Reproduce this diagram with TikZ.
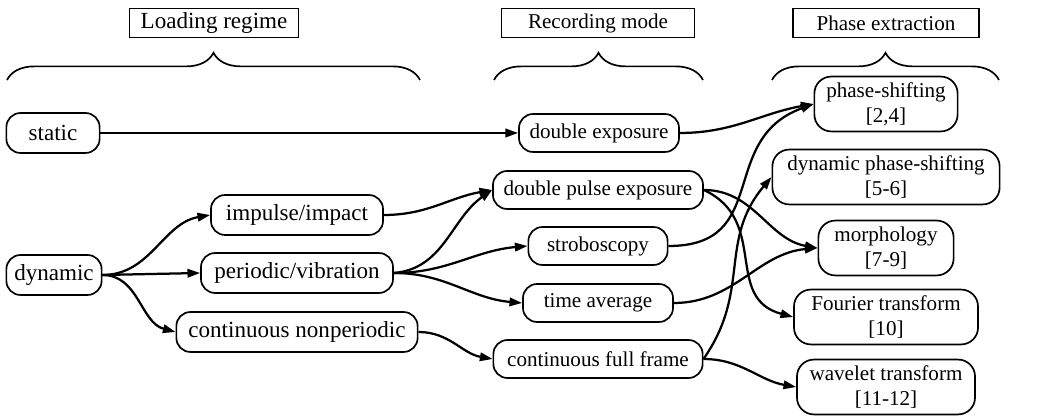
\documentclass[tikz,border=0pt]{standalone}
\usepackage{fontspec}
\setmainfont{Liberation Serif}
\usetikzlibrary{arrows.meta,decorations.pathreplacing}

\tikzset{
  stage/.style={draw,line width=1.2pt,rounded corners=10pt,
    inner xsep=3pt,inner ysep=3pt,align=center},
  loadcol/.style={stage,font=\fontsize{16.4}{19}\selectfont,minimum height=28.4pt},
  reccol/.style={stage,minimum height=27pt},
  phcol/.style={stage,minimum height=39pt,rounded corners=12pt},
  head/.style={draw,line width=1pt,minimum height=21pt,inner ysep=2pt},
  link/.style={line width=1.6pt,-{Triangle[length=9pt,width=6pt]}},
  brc/.style={line width=1.2pt,decorate,decoration={brace,amplitude=0.68cm}}
}

\begin{document}
\begin{tikzpicture}[x=0.025cm,y=0.025cm,font=\fontsize{15}{18}\selectfont]
  \useasboundingbox (0,0) rectangle (1057,418);
  % column heads
  \node[head,minimum width=4.23cm,font=\fontsize{16.4}{19}\selectfont] (hload) at (214,395) {Loading regime};
  \node[head,minimum width=4.83cm] (hrec) at (598,395) {Recording mode};
  \node[head,minimum width=4.65cm] (hphase) at (886,395) {Phase extraction};
  \draw[brc] (7,338) -- (420,338);
  \draw[brc] (494,338) -- (703,338);
  \draw[brc] (772,338) -- (999,338);
  % loading regime
  \node[loadcol,minimum width=2.33cm] (static) at (53,285) {static};
  \node[loadcol,minimum width=2.38cm] (dyn) at (54,143) {dynamic};
  \node[loadcol,minimum width=4.3cm] (impulse) at (297,203) {impulse/impact};
  \node[loadcol,minimum width=4.8cm] (period) at (297,145) {periodic/vibration};
  \node[loadcol,minimum width=6.03cm] (contnp) at (297,86) {continuous nonperiodic};
  % recording mode
  \node[reccol,minimum width=4.0cm] (dblexp) at (599,285) {double exposure};
  \node[reccol,minimum width=5.25cm] (dblpulse) at (598,228) {double pulse exposure};
  \node[reccol,minimum width=3.48cm] (strobo) at (598,172) {stroboscopy};
  \node[reccol,minimum width=3.75cm] (timeavg) at (598,115) {time average};
  \node[reccol,minimum width=5.23cm] (contff) at (598,59) {continuous full frame};
  % phase extraction
  \node[phcol,minimum width=3.58cm] (pshift) at (886,314) {phase-shifting\\{}[2,4]};
  \node[phcol,minimum width=5.68cm] (dpshift) at (886,241) {dynamic phase-shifting\\{}[5-6]};
  \node[phcol,minimum width=3.38cm] (morph) at (886,170) {morphology\\{}[7-9]};
  \node[phcol,minimum width=4.6cm] (fourier) at (886,101) {Fourier transform\\{}[10]};
  \node[phcol,minimum width=4.45cm] (wavelet) at (886,31) {wavelet transform\\{}[11-12]};
  % connectors
  \draw[link] (static) -- (dblexp);
  \draw[link] (dyn.east) to[out=0,in=190] (impulse.west);
  \draw[link] (dyn.east) -- (period.west);
  \draw[link] (dyn.east) to[out=0,in=165] (contnp.west);
  \draw[link] (impulse.east) to[out=0,in=190] (dblpulse.west);
  \draw[link] (period.east) to[out=5,in=215] (dblpulse.west);
  \draw[link] (period.east) to[out=0,in=185] (strobo.west);
  \draw[link] (period.east) to[out=0,in=175] (timeavg.west);
  \draw[link] (contnp.east) to[out=0,in=170] (contff.west);
  \draw[link] (dblexp.east) to[out=0,in=190] (pshift.west);
  \draw[link] (strobo.east) to[out=0,in=200,looseness=1.3] (pshift.west);
  \draw[link] (contff.east) to[out=55,in=230,looseness=1.1] (dpshift.west);
  \draw[link] (dblpulse.east) to[out=0,in=170] (morph.west);
  \draw[link] (dblpulse.east) to[out=-25,in=165,looseness=1.2] (fourier.west);
  \draw[link] (timeavg.east) to[out=0,in=185] (morph.west);
  \draw[link] (contff.east) to[out=0,in=170] (wavelet.west);
\end{tikzpicture}
\end{document}
